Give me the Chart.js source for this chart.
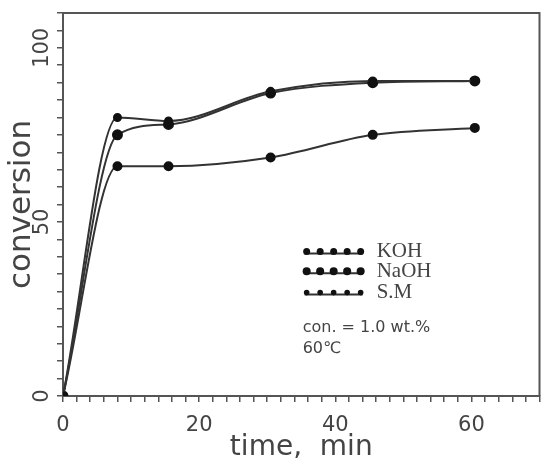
<!DOCTYPE html>
<html>
<head>
<meta charset="utf-8">
<script src="https://cdn.jsdelivr.net/npm/chart.js@4.4.1/dist/chart.umd.min.js"></script>
<style>
  html, body { margin: 0; padding: 0; background: #fff; }
  #wrap { width: 546px; height: 459px; }
</style>
</head>
<body>
<div id="wrap"><canvas id="chart"></canvas></div>
<script>
// Datos (tiempo en min, conversión en %)
const timeMin = [0, 8, 15.5, 30.5, 45.5, 60.5];
const koh = [0, 80, 79, 87.5, 90.5, 90.5];
const naoh = [0, 75, 78, 87, 90, 90.5];
const sm = [0, 66, 66, 68.5, 75, 77];

const seriesNames = ['KOH', 'NaOH', 'S.M'];
const noteLines = ['con. = 1.0 wt.%', '60\u2103'];
const xLabels = [0, 20, 40, 60];
const yLabels = [0, 50, 100];

const ink = '#333';

function toPoints(values) {
    return values.map((v, i) => ({ x: timeMin[i], y: v }));
}

// Marco superior y derecho + leyenda dibujada dentro del área
const framePlugin = {
    id: 'frame',
    afterDraw(chart) {
        const ctx = chart.ctx;
        const a = chart.chartArea;
        const xs = chart.scales.x, ys = chart.scales.y;
        ctx.save();
        ctx.strokeStyle = '#555';
        ctx.lineWidth = 2;
        ctx.beginPath();
        ctx.moveTo(a.left, a.top);
        ctx.lineTo(a.right, a.top);
        ctx.lineTo(a.right, a.bottom);
        ctx.stroke();

        // leyenda
        const x0 = xs.getPixelForValue(35.5);
        const rowY = [ys.getPixelForValue(41.5), ys.getPixelForValue(35.8), ys.getPixelForValue(29.7)];
        const dotR = [3.5, 4, 2.8];
        rowY.forEach((y, i) => {
            ctx.strokeStyle = ink;
            ctx.lineWidth = 2;
            ctx.beginPath();
            ctx.moveTo(x0, y + 2);
            ctx.lineTo(x0 + 58, y + 2);
            ctx.stroke();
            ctx.fillStyle = '#111';
            for (let k = 0; k < 5; k++) {
                ctx.beginPath();
                ctx.arc(x0 + 2 + k * 13.5, y, dotR[i], 0, Math.PI * 2);
                ctx.fill();
            }
            ctx.fillStyle = '#444';
            ctx.font = '21px "Liberation Serif"';
            ctx.textBaseline = 'middle';
            ctx.textAlign = 'left';
            ctx.fillText(seriesNames[i], x0 + 72, y);
        });
        ctx.fillStyle = '#444';
        ctx.font = '16px "DejaVu Sans"';
        ctx.fillText(noteLines[0], x0 - 2, ys.getPixelForValue(19.6));
        ctx.fillText(noteLines[1], x0 - 2, ys.getPixelForValue(13.5));
        ctx.restore();
    }
};

const lineStyle = {
    borderColor: ink,
    borderWidth: 2,
    pointBackgroundColor: '#111',
    pointBorderColor: '#111',
    cubicInterpolationMode: 'monotone',
    fill: false
};

new Chart(document.getElementById('chart'), {
    type: 'line',
    data: {
        datasets: [
            { label: seriesNames[0], data: toPoints(koh), pointRadius: 3.5, ...lineStyle },
            { label: seriesNames[1], data: toPoints(naoh), pointRadius: 4.5, ...lineStyle },
            { label: seriesNames[2], data: toPoints(sm), pointRadius: 4, ...lineStyle }
        ]
    },
    options: {
        responsive: true,
        maintainAspectRatio: false,
        animation: false,
        layout: { padding: { top: 13, right: 0, left: 0, bottom: 0 } },
        plugins: { legend: { display: false }, tooltip: { enabled: false } },
        scales: {
            x: {
                type: 'linear',
                min: 0,
                max: 70,
                afterFit(s) { s.height = 63; },
                border: { color: '#555', width: 2 },
                grid: { drawOnChartArea: false, tickLength: 6, color: '#555', lineWidth: 1.5 },
                ticks: {
                    stepSize: 2,
                    autoSkip: false,
                    maxRotation: 0,
                    padding: 0,
                    color: '#444',
                    font: { family: 'DejaVu Sans', size: 21, lineHeight: 2.24 },
                    callback: v => xLabels.includes(v) ? String(v) : ''
                },
                title: {
                    display: true,
                    text: 'time,  min',
                    color: '#444',
                    font: { family: 'DejaVu Sans', size: 28 },
                    padding: { top: 0, bottom: -6 }
                }
            },
            y: {
                min: 0,
                max: 110,
                afterFit(s) { s.width = 63; },
                border: { color: '#555', width: 2 },
                grid: { drawOnChartArea: false, tickLength: 6, color: '#555', lineWidth: 1.5 },
                ticks: {
                    stepSize: 5,
                    autoSkip: false,
                    minRotation: 90,
                    maxRotation: 90,
                    crossAlign: 'center',
                    padding: -6,
                    color: '#444',
                    font: { family: 'DejaVu Sans', size: 21 },
                    callback: v => yLabels.includes(v) ? String(v) : ''
                },
                title: {
                    display: true,
                    text: 'conversion',
                    color: '#444',
                    font: { family: 'DejaVu Sans', size: 31 },
                    padding: { top: 3, bottom: 0 }
                }
            }
        }
    },
    plugins: [framePlugin]
});
</script>
</body>
</html>
